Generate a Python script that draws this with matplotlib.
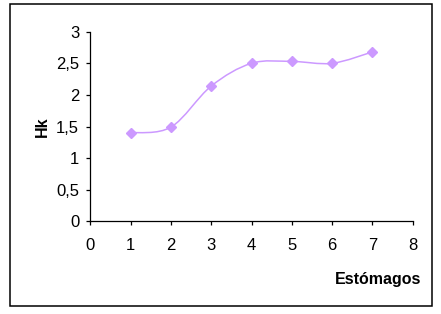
import matplotlib
matplotlib.use("Agg")
from matplotlib import pyplot as plt
from matplotlib import ticker as tick
from matplotlib.path import Path
from matplotlib.patches import PathPatch, Rectangle

# data
estomagos = [1, 2, 3, 4, 5, 6, 7]
hk = [1.40, 1.49, 2.14, 2.50, 2.53, 2.50, 2.68]
x_ticks = [0, 1, 2, 3, 4, 5, 6, 7, 8]
y_ticks = [0, 0.5, 1, 1.5, 2, 2.5, 3]

plt.rcParams['font.family'] = ['Liberation Sans', 'DejaVu Sans']
purple = '#CC99FF'

fig = plt.figure(figsize=(4.41, 3.14), dpi=100)
ax = fig.add_axes([0.2048, 0.2952, 0.7310, 0.6038])

# excel style smoothed line: cubic bezier, control points at 1/6 of neighbour span
pts = list(zip(estomagos, hk))
verts = [pts[0]]
codes = [Path.MOVETO]
n = len(pts)
for i in range(n - 1):
    p0 = pts[i - 1] if i > 0 else pts[i]
    p1 = pts[i]
    p2 = pts[i + 1]
    p3 = pts[i + 2] if i + 2 < n else pts[i + 1]
    c1 = (p1[0] + (p2[0] - p0[0]) / 6, p1[1] + (p2[1] - p0[1]) / 6)
    c2 = (p2[0] - (p3[0] - p1[0]) / 6, p2[1] - (p3[1] - p1[1]) / 6)
    verts += [c1, c2, p2]
    codes += [Path.CURVE4] * 3
ax.add_patch(PathPatch(Path(verts, codes), facecolor='none', edgecolor=purple, lw=1.1))
ax.plot(estomagos, hk, linestyle='none', marker='D', markersize=5.5,
        color=purple, markeredgecolor=purple)

ax.set_xlim(0, 8)
ax.set_ylim(0, 3)
ax.xaxis.set_major_locator(tick.FixedLocator(x_ticks))
ax.yaxis.set_major_locator(tick.FixedLocator(y_ticks))
ax.yaxis.set_major_formatter(tick.FuncFormatter(lambda v, p: ('%g' % v).replace('.', ',')))
ax.spines['top'].set_visible(False)
ax.spines['right'].set_visible(False)
for s in ('left', 'bottom'):
    ax.spines[s].set_linewidth(0.9)
ax.tick_params(axis='both', direction='out', length=3, width=0.9, labelsize=12, colors='black')
ax.tick_params(axis='x', pad=9)
ax.tick_params(axis='y', pad=5)

fig.text(0.9545, 0.096, 'Estómagos', ha='right', va='baseline', fontsize=11.5, fontweight='bold')
fig.text(0.095, 0.597, 'Hk', ha='center', va='center', rotation=90, fontsize=11.5, fontweight='bold')

# border round the chart area
fig.patches.append(Rectangle((9.5 / 441, 1 - 306 / 314), (432 - 9.5) / 441, (306 - 3.5) / 314,
                             transform=fig.transFigure, fill=False, edgecolor='black', lw=1.1))

fig.savefig('out.png', dpi=100)
